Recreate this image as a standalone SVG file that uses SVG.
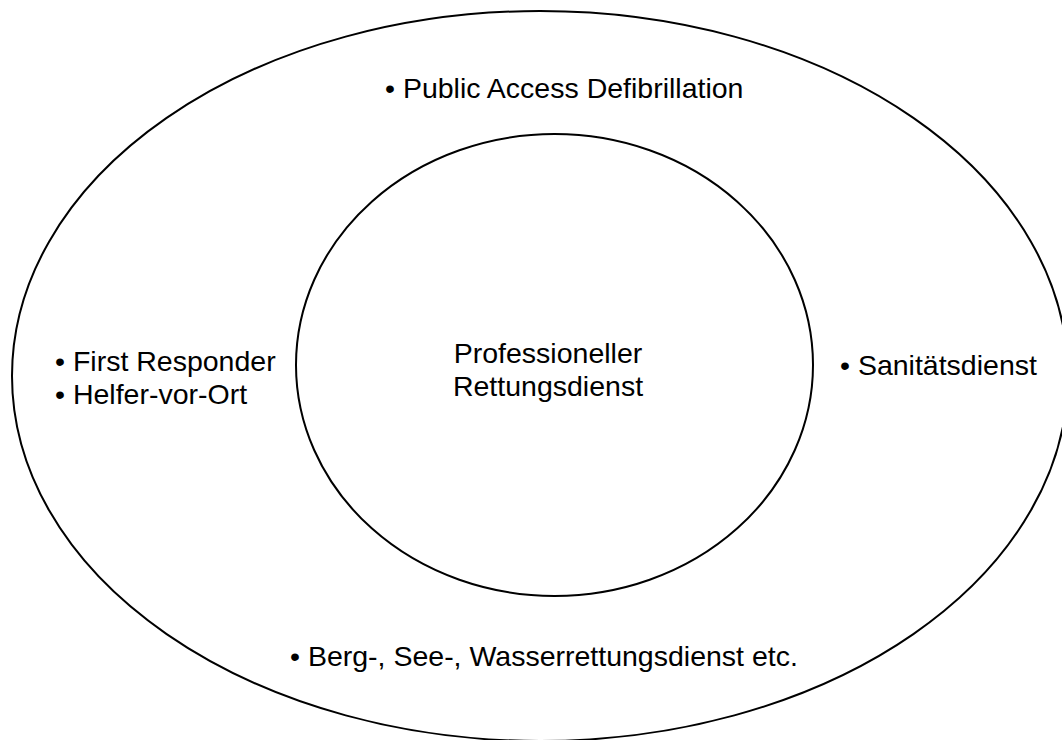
<svg xmlns="http://www.w3.org/2000/svg" width="1062" height="740" viewBox="0 0 1062 740">
<style>
.ring{fill:none;stroke:#000;stroke-width:2}
text{font-family:"Liberation Sans",Arial,sans-serif;font-size:28.5px;fill:#000}
</style>
<rect width="1062" height="740" fill="#fff"/>
<g id="outer">
<ellipse class="ring" cx="540" cy="376" rx="528" ry="365"/>
<text x="385" y="98">• Public Access Defibrillation</text>
<text x="55" y="371">• First Responder</text>
<text x="55" y="404">• Helfer-vor-Ort</text>
<text x="840" y="375">• Sanitätsdienst</text>
<text x="290" y="666">• Berg-, See-, Wasserrettungsdienst etc.</text>
</g>
<g id="inner">
<ellipse class="ring" cx="554.5" cy="365" rx="258.5" ry="231"/>
<text x="548" y="363" text-anchor="middle">Professioneller</text>
<text x="548" y="396" text-anchor="middle">Rettungsdienst</text>
</g>
<g id="connectors"/>
</svg>
